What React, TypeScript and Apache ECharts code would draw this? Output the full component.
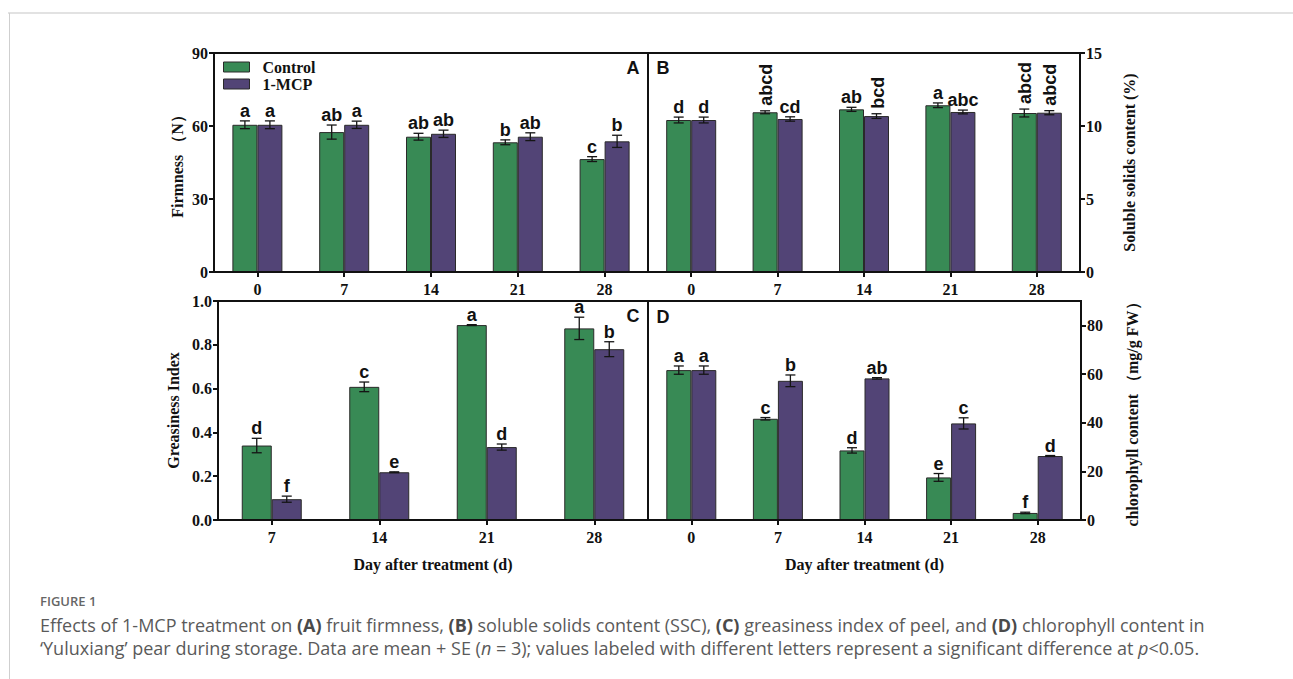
import React, { useEffect, useRef } from "react";
import * as echarts from "echarts";

// Storage days
const days = ["0", "7", "14", "21", "28"];
const greasinessDays = ["7", "14", "21", "28"];

// (A) Firmness (N)
const firmnessControl = [60.5, 57.5, 55.6, 53.3, 46.4];
const firmnessControlSE = [1.6, 2.9, 1.4, 1.0, 1.0];
const firmnessControlLetters = ["a", "ab", "ab", "b", "c"];
const firmnessMCP = [60.5, 60.5, 56.8, 55.6, 53.7];
const firmnessMCPSE = [1.6, 1.5, 1.5, 1.6, 2.5];
const firmnessMCPLetters = ["a", "a", "ab", "ab", "b"];

// (B) Soluble solids content (%)
const sscControl = [10.41, 10.94, 11.14, 11.42, 10.89];
const sscControlSE = [0.2, 0.1, 0.14, 0.16, 0.27];
const sscControlLetters = ["d", "abcd", "ab", "a", "abcd"];
const sscControlVertical = [false, true, false, false, true];
const sscMCP = [10.41, 10.48, 10.68, 10.96, 10.91];
const sscMCPSE = [0.2, 0.15, 0.16, 0.13, 0.14];
const sscMCPLetters = ["d", "cd", "bcd", "abc", "abcd"];
const sscMCPVertical = [false, false, true, false, true];

// (C) Greasiness index
const greasinessControl = [0.34, 0.608, 0.89, 0.875];
const greasinessControlSE = [0.033, 0.022, 0.002, 0.051];
const greasinessControlLetters = ["d", "c", "a", "a"];
const greasinessMCP = [0.095, 0.218, 0.333, 0.78];
const greasinessMCPSE = [0.014, 0.002, 0.014, 0.034];
const greasinessMCPLetters = ["f", "e", "d", "b"];

// (D) Chlorophyll content (mg/g FW)
const chlControl = [61.6, 41.6, 28.6, 17.5, 2.9];
const chlControlSE = [1.7, 0.5, 1.1, 1.6, 0.3];
const chlControlLetters = ["a", "c", "d", "e", "f"];
const chlMCP = [61.6, 57.2, 58.2, 39.7, 26.3];
const chlMCPSE = [1.7, 2.4, 0.3, 2.3, 0.2];
const chlMCPLetters = ["a", "b", "ab", "c", "d"];

const GREEN = "#388a55";
const PURPLE = "#524476";
const SERIF = "'Liberation Serif', 'Times New Roman', serif";
const SANS = "'Liberation Sans', Arial, sans-serif";
const CAPTION = "'Open Sans', 'Noto Sans', sans-serif";

const grids = [
  { left: 214, top: 53, width: 434, height: 219 },
  { left: 648, top: 53, width: 432, height: 219 },
  { left: 218, top: 301, width: 430, height: 219 },
  { left: 648, top: 301, width: 433, height: 219 },
];

function barSeries(name: string, color: string, idx: number, values: number[], width: number) {
  return {
    type: "bar",
    name,
    xAxisIndex: idx,
    yAxisIndex: idx,
    data: values,
    barWidth: width,
    barGap: "0%",
    itemStyle: { color, borderColor: "#2a2a2a", borderWidth: 1 },
    z: 2,
  };
}

function errorSeries(
  idx: number,
  values: number[],
  se: number[],
  letters: string[],
  side: number,
  barW: number,
  vertical?: boolean[]
) {
  return {
    type: "custom",
    xAxisIndex: idx,
    yAxisIndex: idx,
    encode: { x: 0, y: 1 },
    data: values.map((v, i) => [i, v, se[i]]),
    z: 5,
    silent: true,
    renderItem: (params: any, api: any) => {
      const i = api.value(0);
      const v = api.value(1);
      const e = api.value(2);
      const top = api.coord([i, v + e]);
      const bot = api.coord([i, v - e]);
      const x = top[0] + (side * barW) / 2;
      const cap = 5;
      const lineStyle = { stroke: "#151515", lineWidth: 1.3 };
      const letter = letters[params.dataIndex];
      const vert = vertical ? vertical[params.dataIndex] : false;
      const base = {
        text: letter,
        x: 0,
        y: 0,
        fontFamily: SANS,
        fontWeight: "bold",
        fontSize: 18,
        fill: "#111",
      };
      const textEl = vert
        ? {
            type: "text",
            x: x + 1,
            y: top[1] - 5,
            rotation: Math.PI / 2,
            style: { ...base, align: "left", verticalAlign: "middle" },
          }
        : {
            type: "text",
            x: x,
            y: top[1] - 1,
            style: { ...base, align: "center", verticalAlign: "bottom" },
          };
      return {
        type: "group",
        children: [
          { type: "line", shape: { x1: x, y1: top[1], x2: x, y2: bot[1] }, style: lineStyle },
          { type: "line", shape: { x1: x - cap, y1: top[1], x2: x + cap, y2: top[1] }, style: lineStyle },
          { type: "line", shape: { x1: x - cap, y1: bot[1], x2: x + cap, y2: bot[1] }, style: lineStyle },
          textEl,
        ],
      };
    },
  };
}

const axisLineStyle = { show: true, lineStyle: { color: "#111", width: 2 } };
const tickStyle = { show: true, inside: false, length: 5, lineStyle: { color: "#111", width: 2 } };
const tickLabel = { fontFamily: SERIF, fontWeight: "bold", fontSize: 16, color: "#111" };
const nameStyle = { fontFamily: SERIF, fontWeight: "bold", fontSize: 16, color: "#111" };

function xAxis(idx: number, cats: string[], withName: boolean) {
  return {
    type: "category",
    gridIndex: idx,
    data: cats,
    axisLine: axisLineStyle,
    axisTick: { ...tickStyle, alignWithLabel: true },
    axisLabel: { ...tickLabel, margin: 9 },
    splitLine: { show: false },
    name: withName ? "Day after treatment (d)" : "",
    nameLocation: "middle",
    nameGap: 36,
    nameTextStyle: nameStyle,
  };
}

export default function App() {
  const ref = useRef<HTMLDivElement>(null);

  useEffect(() => {
    if (!ref.current) return;
    const chart = echarts.init(ref.current, undefined, { renderer: "svg" });

    const boxes = grids.map((g) => ({
      type: "rect",
      shape: { x: g.left, y: g.top, width: g.width, height: g.height },
      style: { fill: "none", stroke: "#111", lineWidth: 2 },
      z: 10,
    }));

    const panelLetter = (text: string, x: number, y: number) => ({
      type: "text",
      x,
      y,
      style: {
        text,
        fontFamily: SANS,
        fontWeight: "bold",
        fontSize: 18,
        fill: "#111",
        align: "center",
        verticalAlign: "middle",
      },
      z: 10,
    });

    const CAP_SIZE = 18;
    const captionRich = {
      b: { fontFamily: CAPTION, fontWeight: "bold", fontSize: CAP_SIZE, fill: "#4a4a4a" },
      i: { fontFamily: CAPTION, fontStyle: "italic", fontSize: CAP_SIZE, fill: "#5a5a5a" },
      u: { fontFamily: CAPTION, fontSize: CAP_SIZE, fill: "#5a5a5a", textDecoration: "underline" },
    };

    chart.setOption({
      animation: false,
      backgroundColor: "#ffffff",
      legend: {
        data: ["Control", "1-MCP"],
        orient: "vertical",
        left: 218,
        top: 54,
        itemWidth: 26,
        itemHeight: 10,
        itemGap: 1,
        icon: "rect",
        itemStyle: { borderColor: "#2a2a2a", borderWidth: 1 },
        textStyle: { ...nameStyle, fontSize: 16, padding: [0, 0, 0, 8] },
      },
      grid: grids.map((g) => ({ ...g, containLabel: false })),
      xAxis: [
        xAxis(0, days, false),
        xAxis(1, days, false),
        xAxis(2, greasinessDays, true),
        xAxis(3, days, true),
      ],
      yAxis: [
        {
          type: "value",
          gridIndex: 0,
          min: 0,
          max: 90,
          interval: 30,
          axisLine: axisLineStyle,
          axisTick: tickStyle,
          axisLabel: { ...tickLabel, margin: 6 },
          splitLine: { show: false },
          name: "Firmness （N）",
          nameLocation: "middle",
          nameGap: 29,
          nameRotate: 90,
          nameTextStyle: nameStyle,
        },
        {
          type: "value",
          gridIndex: 1,
          position: "right",
          min: 0,
          max: 15,
          interval: 5,
          axisLine: axisLineStyle,
          axisTick: tickStyle,
          axisLabel: { ...tickLabel, margin: 6 },
          splitLine: { show: false },
          name: "Soluble solids content (%)",
          nameLocation: "middle",
          nameGap: 41,
          nameRotate: 90,
          nameTextStyle: nameStyle,
        },
        {
          type: "value",
          gridIndex: 2,
          min: 0,
          max: 1,
          interval: 0.2,
          axisLine: axisLineStyle,
          axisTick: tickStyle,
          axisLabel: { ...tickLabel, margin: 6, formatter: (v: number) => v.toFixed(1) },
          splitLine: { show: false },
          name: "Greasiness Index",
          nameLocation: "middle",
          nameGap: 37,
          nameRotate: 90,
          nameTextStyle: nameStyle,
        },
        {
          type: "value",
          gridIndex: 3,
          position: "right",
          min: 0,
          max: 90,
          axisLine: axisLineStyle,
          axisTick: { ...tickStyle, customValues: [0, 20, 40, 60, 80] },
          axisLabel: { ...tickLabel, margin: 6, customValues: [0, 20, 40, 60, 80] },
          splitLine: { show: false },
          name: "chlorophyll content （mg/g FW）",
          nameLocation: "middle",
          nameGap: 43,
          nameRotate: 90,
          nameTextStyle: nameStyle,
        },
      ],
      series: [
        barSeries("Control", GREEN, 0, firmnessControl, 25),
        barSeries("1-MCP", PURPLE, 0, firmnessMCP, 25),
        errorSeries(0, firmnessControl, firmnessControlSE, firmnessControlLetters, -1, 25),
        errorSeries(0, firmnessMCP, firmnessMCPSE, firmnessMCPLetters, 1, 25),

        barSeries("Control", GREEN, 1, sscControl, 25),
        barSeries("1-MCP", PURPLE, 1, sscMCP, 25),
        errorSeries(1, sscControl, sscControlSE, sscControlLetters, -1, 25, sscControlVertical),
        errorSeries(1, sscMCP, sscMCPSE, sscMCPLetters, 1, 25, sscMCPVertical),

        barSeries("Control", GREEN, 2, greasinessControl, 30),
        barSeries("1-MCP", PURPLE, 2, greasinessMCP, 30),
        errorSeries(2, greasinessControl, greasinessControlSE, greasinessControlLetters, -1, 30),
        errorSeries(2, greasinessMCP, greasinessMCPSE, greasinessMCPLetters, 1, 30),

        barSeries("Control", GREEN, 3, chlControl, 25),
        barSeries("1-MCP", PURPLE, 3, chlMCP, 25),
        errorSeries(3, chlControl, chlControlSE, chlControlLetters, -1, 25),
        errorSeries(3, chlMCP, chlMCPSE, chlMCPLetters, 1, 25),
      ],
      graphic: [
        // page frame
        { type: "line", shape: { x1: 8, y1: 13, x2: 1293, y2: 13 }, style: { stroke: "#e2e2e2", lineWidth: 2 } },
        { type: "line", shape: { x1: 9.5, y1: 13, x2: 9.5, y2: 679 }, style: { stroke: "#cfcfcf", lineWidth: 1 } },
        ...boxes,
        panelLetter("A", 633, 68),
        panelLetter("B", 663, 68),
        panelLetter("C", 633, 316),
        panelLetter("D", 663, 317),
        {
          type: "text",
          x: 40,
          y: 601,
          style: {
            text: "FIGURE 1",
            fontFamily: CAPTION,
            fontWeight: 600,
            fontSize: 13,
            fill: "#666",
            verticalAlign: "middle",
          },
        },
        {
          type: "text",
          x: 40,
          y: 625,
          style: {
            text:
              "Effects of 1-MCP treatment on {b|(A)} fruit firmness, {b|(B)} soluble solids content (SSC), {b|(C)} greasiness index of peel, and {b|(D)} chlorophyll content in",
            fontFamily: CAPTION,
            fontSize: CAP_SIZE,
            fill: "#5a5a5a",
            verticalAlign: "middle",
            rich: captionRich,
          },
        },
        {
          type: "text",
          x: 40,
          y: 648,
          style: {
            text:
              "‘Yuluxiang’ pear during storage. Data are mean {u|+} SE ({i|n} = 3); values labeled with different letters represent a significant difference at {i|p}<0.05.",
            fontFamily: CAPTION,
            fontSize: CAP_SIZE,
            fill: "#5a5a5a",
            verticalAlign: "middle",
            rich: captionRich,
          },
        },
      ],
    });

    return () => chart.dispose();
  }, []);

  return (
    <div
      ref={ref}
      style={{ position: "absolute", left: 0, top: 0, width: 1293, height: 679, background: "#fff" }}
    />
  );
}
